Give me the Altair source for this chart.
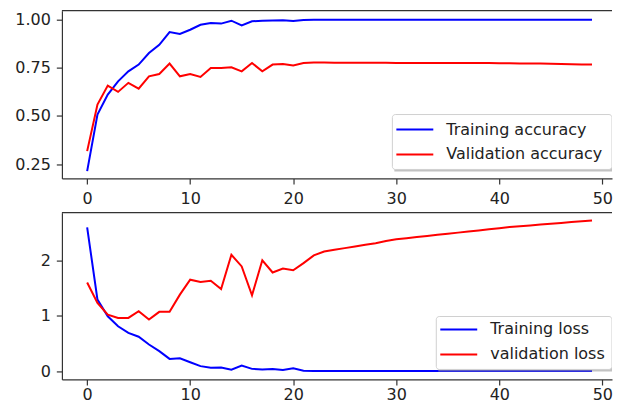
import altair as alt
import pandas as pd

# ---------------- data ----------------
epochs = list(range(50))

train_acc = [0.213, 0.507, 0.611, 0.680, 0.732, 0.767, 0.827, 0.870, 0.936, 0.926,
             0.948, 0.974, 0.983, 0.980, 0.995, 0.970, 0.992, 0.995, 0.996, 0.997,
             0.993, 0.999] + [1.0] * 28

val_acc = [0.317, 0.559, 0.658, 0.625, 0.672, 0.642, 0.706, 0.718, 0.772, 0.706,
           0.718, 0.703, 0.749, 0.749, 0.753, 0.732, 0.775, 0.732, 0.767, 0.770,
           0.762, 0.775, 0.778, 0.778, 0.777, 0.777, 0.777, 0.776, 0.776, 0.776,
           0.775, 0.775, 0.775, 0.775, 0.775, 0.775, 0.775, 0.775, 0.775, 0.775,
           0.774, 0.774, 0.773, 0.773, 0.772, 0.771, 0.770, 0.769, 0.768, 0.767]

train_loss = [2.595, 1.29, 0.99, 0.81, 0.69, 0.62, 0.48, 0.36, 0.22, 0.23,
              0.16, 0.09, 0.06, 0.065, 0.025, 0.10, 0.04, 0.03, 0.04, 0.02,
              0.05, 0.005] + [0.002] * 28

val_loss = [1.60, 1.23, 1.02, 0.96, 0.96, 1.08, 0.93, 1.07, 1.07, 1.38,
            1.65, 1.61, 1.63, 1.48, 2.10, 1.89, 1.37, 2.00, 1.78, 1.85,
            1.82, 1.95, 2.09, 2.16, 2.19, 2.22, 2.25, 2.28, 2.31, 2.35,
            2.38, 2.40, 2.42, 2.44, 2.46, 2.48, 2.50, 2.52, 2.54, 2.56,
            2.58, 2.60, 2.615, 2.63, 2.645, 2.66, 2.675, 2.69, 2.705, 2.72]

acc_names = ["Training accuracy", "Validation accuracy"]
loss_names = ["Training loss", "validation loss"]
line_colors = ["#0000ff", "#ff0000"]

x_ticks = [0, 10, 20, 30, 40, 50]
acc_ticks = [0.25, 0.50, 0.75, 1.00]
loss_ticks = [0, 1, 2]

# ---------------- layout constants ----------------
W = 551
H_TOP = 168
H_BOT = 167
X_DOMAIN = [-2.45, 50.94]
FONT = "DejaVu Sans"
TXT = "#222222"
SPINE = "#333333"


def long_df(a, b, names):
    return pd.DataFrame({
        "epoch": epochs + epochs,
        "value": a + b,
        "series": [names[0]] * len(a) + [names[1]] * len(b),
    })


one = pd.DataFrame({"k": [0]})


def panel(df, names, ydom, yticks, yfmt, height, box, line_x, text_x, rows_y, xpad):
    lines = alt.Chart(df).mark_line(strokeWidth=2).encode(
        x=alt.X("epoch:Q",
                scale=alt.Scale(domain=X_DOMAIN, nice=False, zero=False, padding=0),
                axis=alt.Axis(values=x_ticks, format="d", title=None, labelFlush=False,
                              labelPadding=xpad)),
        y=alt.Y("value:Q",
                scale=alt.Scale(domain=ydom, nice=False, zero=False, padding=0),
                axis=alt.Axis(values=yticks, format=yfmt, title=None)),
        color=alt.Color("series:N", scale=alt.Scale(domain=names, range=line_colors),
                        legend=None),
        detail="series:N",
    )
    top_spine = alt.Chart(one).mark_rule(color=SPINE, strokeWidth=1.2).encode(
        x=alt.value(0), x2=alt.value(W), y=alt.value(0))
    bx0, by0, bx1, by1 = box
    shadow = alt.Chart(one).mark_rect(fill="#999999", opacity=0.6, clip=True).encode(
        x=alt.value(bx0 + 2), x2=alt.value(bx1), y=alt.value(by0 + 2), y2=alt.value(by1 + 2))
    frame = alt.Chart(one).mark_rect(fill="white", stroke="#d0d0d0", strokeWidth=1,
                                     cornerRadius=3, clip=True).encode(
        x=alt.value(bx0), x2=alt.value(bx1), y=alt.value(by0), y2=alt.value(by1))
    layers = [lines, top_spine, shadow, frame]
    for name, col, ry in zip(names, line_colors, rows_y):
        layers.append(alt.Chart(one).mark_rule(color=col, strokeWidth=2).encode(
            x=alt.value(line_x[0]), x2=alt.value(line_x[1]), y=alt.value(ry)))
        layers.append(alt.Chart(one).mark_text(
            align="left", baseline="middle", font=FONT, fontSize=16, color=TXT).encode(
            x=alt.value(text_x), y=alt.value(ry), text=alt.value(name)))
    return alt.layer(*layers).properties(width=W, height=height)


top = panel(long_df(train_acc, val_acc, acc_names), acc_names, [0.175, 1.047], acc_ticks,
            ".2f", H_TOP, (331, 104, W, 159), (335, 372), 385, (119, 144), 7)
bottom = panel(long_df(train_loss, val_loss, loss_names), loss_names, [-0.15, 2.86],
               loss_ticks, "d", H_BOT, (375, 104, W, 157), (379, 416), 429, (117, 142), 1.5)

chart = alt.vconcat(top, bottom, spacing=4.3).properties(
    padding={"left": 6, "top": 1.4, "right": 0, "bottom": 0}
).configure_view(stroke=None).configure_axis(
    labelFont=FONT, labelFontSize=16, labelColor=TXT,
    tickColor=SPINE, tickWidth=1.2, tickSize=5.6,
    domainColor=SPINE, domainWidth=1.2, grid=False,
).configure_axisY(labelPadding=6)

chart.save("out.html", embed_options={"renderer": "svg", "actions": False})
